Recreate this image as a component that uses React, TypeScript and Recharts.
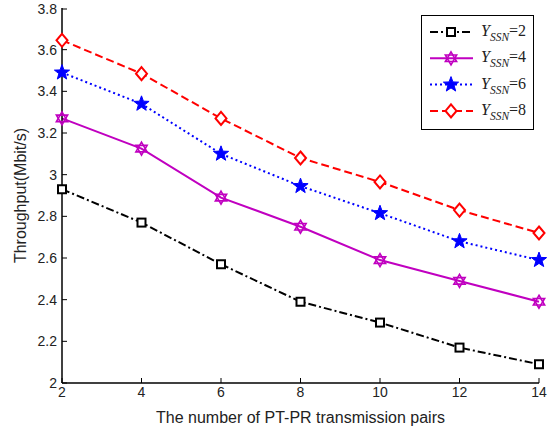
import { LineChart, Line, XAxis, YAxis, Legend } from "recharts";

const pairs = [2, 4, 6, 8, 10, 12, 14];
const ssn2 = [2.93, 2.77, 2.57, 2.39, 2.29, 2.17, 2.09];
const ssn4 = [3.27, 3.125, 2.89, 2.75, 2.59, 2.49, 2.39];
const ssn6 = [3.49, 3.34, 3.1, 2.945, 2.815, 2.68, 2.59];
const ssn8 = [3.645, 3.485, 3.27, 3.08, 2.965, 2.83, 2.72];
const xTicks = [2, 4, 6, 8, 10, 12, 14];
const yTicks = [2, 2.2, 2.4, 2.6, 2.8, 3, 3.2, 3.4, 3.6, 3.8];

const data = pairs.map((p, i) => ({
  pairs: p,
  ssn2: ssn2[i],
  ssn4: ssn4[i],
  ssn6: ssn6[i],
  ssn8: ssn8[i],
}));

const MAGENTA = "#c000c0";
const FONT = "'Liberation Sans', Arial, sans-serif";

// marker shapes, drawn around (cx, cy)
const squarePath = (cx: number, cy: number) => (
  <rect x={cx - 4} y={cy - 4} width={8} height={8} fill="#fff" stroke="#000" strokeWidth={2} />
);

const hexagramPath = (cx: number, cy: number) => {
  const r = 6.5;
  const tri = (rot: number) =>
    [0, 1, 2]
      .map((k) => {
        const a = rot + (k * 2 * Math.PI) / 3;
        return `${cx + r * Math.sin(a)},${cy - r * Math.cos(a)}`;
      })
      .join(" ");
  return (
    <g fill="none" stroke={MAGENTA} strokeWidth={1.6}>
      <polygon points={tri(0)} />
      <polygon points={tri(Math.PI)} />
    </g>
  );
};

const pentagramPath = (cx: number, cy: number) => {
  const pts: string[] = [];
  for (let k = 0; k < 10; k++) {
    const r = k % 2 === 0 ? 8 : 3.3;
    const a = (k * Math.PI) / 5;
    pts.push(`${cx + r * Math.sin(a)},${cy - r * Math.cos(a)}`);
  }
  return <polygon points={pts.join(" ")} fill="#0000ff" stroke="#0000ff" strokeWidth={1} />;
};

const diamondPath = (cx: number, cy: number) => (
  <polygon
    points={`${cx},${cy - 6.5} ${cx + 5.5},${cy} ${cx},${cy + 6.5} ${cx - 5.5},${cy}`}
    fill="#fff"
    stroke="#ff0000"
    strokeWidth={2}
  />
);

const series = [
  { key: "ssn2", label: "2", color: "#000", dash: "8 3 2 3", marker: squarePath },
  { key: "ssn4", label: "4", color: MAGENTA, dash: undefined, marker: hexagramPath },
  { key: "ssn6", label: "6", color: "#0000ff", dash: "2 3", marker: pentagramPath },
  { key: "ssn8", label: "8", color: "#ff0000", dash: "8 4", marker: diamondPath },
];

interface TickProps {
  x: number;
  y: number;
  payload: { value: number };
}

const LeftTick = ({ x, y, payload }: TickProps) => (
  <g>
    <line x1={x} x2={x + 5} y1={y} y2={y} stroke="#000" strokeWidth={1} />
    <text x={x - 5} y={y} dy="0.35em" textAnchor="end" fontSize={14} fontFamily={FONT} fill="#222">
      {payload.value}
    </text>
  </g>
);

const RightTick = ({ x, y }: TickProps) => (
  <line x1={x - 5} x2={x} y1={y} y2={y} stroke="#000" strokeWidth={1} />
);

const BottomTick = ({ x, y, payload }: TickProps) => (
  <g>
    <line x1={x} x2={x} y1={y} y2={y - 5} stroke="#000" strokeWidth={1} />
    <text x={x} y={y + 4} dy="0.71em" textAnchor="middle" fontSize={14} fontFamily={FONT} fill="#222">
      {payload.value}
    </text>
  </g>
);

const TopTick = ({ x, y }: TickProps) => (
  <line x1={x} x2={x} y1={y} y2={y + 5} stroke="#000" strokeWidth={1} />
);

const LegendBox = () => (
  <svg width={113} height={115} style={{ display: "block" }}>
    <rect x={0.5} y={0.5} width={112} height={114} fill="#fff" stroke="#000" strokeWidth={1} />
    {series.map((s, i) => {
      const y = 17 + i * 26.3;
      return (
        <g key={s.key}>
          <line x1={9} x2={52} y1={y} y2={y} stroke={s.color} strokeWidth={2} strokeDasharray={s.dash} />
          {s.marker(30, y)}
          <text x={60} y={y + 4} fontFamily="'Liberation Serif', 'Times New Roman', serif" fontSize={16} fill="#222">
            <tspan fontStyle="italic">Y</tspan>
            <tspan fontStyle="italic" fontSize={11.5} dy={5}>SSN</tspan>
            <tspan dy={-5}>={s.label}</tspan>
          </text>
        </g>
      );
    })}
  </svg>
);

export default function App() {
  return (
    <div style={{ position: "absolute", left: 0, top: 0, background: "#fff" }}>
      <LineChart
        width={553}
        height={433}
        data={data}
        margin={{ top: 8, right: 14, bottom: 0, left: 0 }}
      >
        <XAxis
          dataKey="pairs"
          type="number"
          domain={[2, 14]}
          ticks={xTicks}
          height={50}
          tickSize={0}
          tickMargin={0}
          tickLine={false}
          axisLine={{ stroke: "#000", strokeWidth: 1.5 }}
          tick={BottomTick}
          label={{
            value: "The number of PT-PR transmission pairs",
            position: "insideBottom",
            offset: 10,
            style: { fontSize: 16, fontFamily: FONT, fill: "#222" },
          }}
        />
        <XAxis
          xAxisId="top"
          orientation="top"
          dataKey="pairs"
          type="number"
          domain={[2, 14]}
          ticks={xTicks}
          height={0}
          tickSize={0}
          tickMargin={0}
          tickLine={false}
          axisLine={{ stroke: "#000", strokeWidth: 1.5 }}
          tick={TopTick}
        />
        <YAxis
          type="number"
          domain={[2, 3.8]}
          ticks={yTicks}
          width={62}
          tickSize={0}
          tickMargin={0}
          tickLine={false}
          axisLine={{ stroke: "#000", strokeWidth: 1.5 }}
          tick={LeftTick}
          label={{
            value: "Throughput(Mbit/s)",
            angle: -90,
            position: "insideLeft",
            offset: 20,
            style: { fontSize: 16, fontFamily: FONT, fill: "#222", textAnchor: "middle" },
          }}
        />
        <YAxis
          yAxisId="right"
          orientation="right"
          type="number"
          domain={[2, 3.8]}
          ticks={yTicks}
          width={0}
          tickSize={0}
          tickMargin={0}
          tickLine={false}
          axisLine={{ stroke: "#000", strokeWidth: 1.5 }}
          tick={RightTick}
        />
        <Legend
          layout="vertical"
          align="center"
          verticalAlign="middle"
          wrapperStyle={{ left: 421, top: 15, width: 113 }}
          content={() => <LegendBox />}
        />
        {series.map((s) => (
          <Line
            key={s.key}
            dataKey={s.key}
            stroke={s.color}
            strokeWidth={2}
            strokeDasharray={s.dash}
            isAnimationActive={false}
            dot={(p: { cx: number; cy: number; index: number }) => (
              <g key={`${s.key}-${p.index}`}>{s.marker(p.cx, p.cy)}</g>
            )}
            activeDot={false}
          />
        ))}
      </LineChart>
    </div>
  );
}
